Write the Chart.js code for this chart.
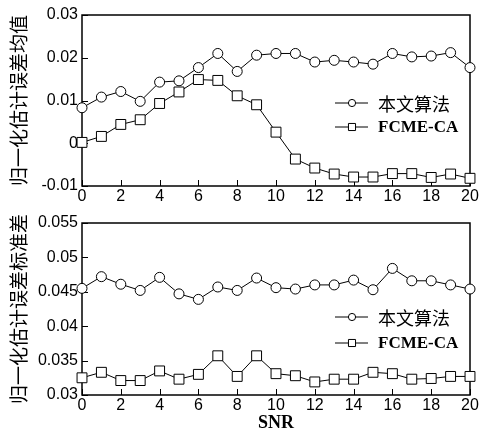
<!DOCTYPE html>
<html>
<head>
<meta charset="utf-8">
<script src="https://cdn.jsdelivr.net/npm/chart.js@4"></script>
<style>
  html, body { margin: 0; padding: 0; background: #fff; overflow: hidden; }
  body { width: 481px; height: 429px; position: relative; }
  canvas { position: absolute; left: 0; }
  #meanChart { top: 0; }
  #stdChart { top: 205px; }
</style>
</head>
<body>
<canvas id="meanChart" width="481" height="210"></canvas>
<canvas id="stdChart" width="481" height="235"></canvas>
<script>
// SNR values on the x axis
const snr = [0, 1, 2, 3, 4, 5, 6, 7, 8, 9, 10, 11, 12, 13, 14, 15, 16, 17, 18, 19, 20];
const seriesNames = ["本文算法", "FCME-CA"];

// top plot: mean of the normalized estimation error
const meanOurs = [0.0083, 0.0108, 0.0121, 0.0098, 0.0143, 0.0146, 0.0177, 0.0210, 0.0168, 0.0206, 0.0210,
                  0.0210, 0.0190, 0.0194, 0.0190, 0.0185, 0.0210, 0.0202, 0.0204, 0.0212, 0.0177];
const meanFcme = [0.0002, 0.0016, 0.0044, 0.0055, 0.0093, 0.0120, 0.0149, 0.0147, 0.0111, 0.0090, 0.0026,
                  -0.0037, -0.0058, -0.0072, -0.0079, -0.0079, -0.0071, -0.0071, -0.0080, -0.0072, -0.0082];

// bottom plot: standard deviation of the normalized estimation error
const stdOurs = [0.0455, 0.0472, 0.0461, 0.0452, 0.0471, 0.0447, 0.0439, 0.0457, 0.0452, 0.0470, 0.0456,
                 0.0454, 0.0460, 0.0460, 0.0467, 0.0453, 0.0484, 0.0466, 0.0466, 0.0460, 0.0454];
const stdFcme = [0.0325, 0.0333, 0.0321, 0.0321, 0.0335, 0.0323, 0.0330, 0.0357, 0.0327, 0.0357, 0.0331,
                 0.0328, 0.0319, 0.0323, 0.0323, 0.0333, 0.0331, 0.0323, 0.0324, 0.0327, 0.0327];

const meanRange = [-0.01, 0.03, 0.01];
const stdRange = [0.03, 0.055, 0.005];
const snrRange = [0, 20, 2];

// box, inward ticks and the little legend inside the plot
const framePlugin = {
    id: "frame",
    beforeDatasetsDraw(chart) {
        const ctx = chart.ctx;
        const a = chart.chartArea;
        const xs = chart.scales.x, ys = chart.scales.y;
        ctx.save();
        ctx.strokeStyle = "#000";
        ctx.lineWidth = 1.5;
        ctx.strokeRect(a.left, a.top, a.right - a.left, a.bottom - a.top);
        ctx.lineWidth = 1;
        ctx.beginPath();
        xs.ticks.forEach(t => {
            const px = Math.round(xs.getPixelForValue(t.value)) + 0.5;
            ctx.moveTo(px, a.bottom);
            ctx.lineTo(px, a.bottom - 6);
        });
        ys.ticks.forEach(t => {
            const py = Math.round(ys.getPixelForValue(t.value)) + 0.5;
            ctx.moveTo(a.left, py);
            ctx.lineTo(a.left + 6, py);
        });
        ctx.stroke();
        ctx.restore();
    },
    afterDraw(chart, args, opts) {
        const ctx = chart.ctx;
        const a = chart.chartArea;
        ctx.save();
        chart.data.datasets.forEach((ds, i) => {
            const y = a.top + opts.rows[i];
            const x0 = a.right - 135;
            ctx.strokeStyle = "#000";
            ctx.lineWidth = 1;
            ctx.beginPath();
            ctx.moveTo(x0, y);
            ctx.lineTo(x0 + 33, y);
            ctx.stroke();
            ctx.fillStyle = "#fff";
            // legend markers are drawn a bit smaller than the plot markers
            Chart.helpers.drawPoint(ctx, {pointStyle: ds.pointStyle, radius: opts.markerSize[i], borderWidth: 1, rotation: 0}, x0 + 17, y);
            ctx.fillStyle = "#000";
            ctx.font = i === 0 ? '18px "Noto Sans CJK SC"' : 'bold 17px "Liberation Serif"';
            ctx.textBaseline = "middle";
            ctx.fillText(ds.label, x0 + 43, y + 1);
        });
        ctx.restore();
    }
};

function makeSet(label, values, style, radius) {
    return {
        label: label,
        data: snr.map((s, i) => ({x: s, y: values[i]})),
        borderColor: "#000",
        borderWidth: 1,
        pointStyle: style,
        pointRadius: radius,
        pointBackgroundColor: "#fff",
        pointBorderColor: "#000",
        pointBorderWidth: 1,
        tension: 0,
        clip: false
    };
}

function makeChart(id, ours, fcme, range, yTitle, top, bottomHeight, legendRows, showXTitle) {
    return new Chart(document.getElementById(id), {
        type: "line",
        data: {
            datasets: [
                makeSet(seriesNames[0], ours, "circle", 5),
                makeSet(seriesNames[1], fcme, "rect", 7)
            ]
        },
        options: {
            responsive: false,
            animation: false,
            layout: {padding: {top: top, right: 11, left: 0, bottom: 0}},
            plugins: {
                legend: {display: false},
                tooltip: {enabled: false},
                frame: {rows: legendRows, markerSize: [3.6, 5]}
            },
            scales: {
                x: {
                    type: "linear",
                    min: snrRange[0], max: snrRange[1],
                    grid: {display: false, drawTicks: false},
                    border: {display: false},
                    ticks: {stepSize: snrRange[2], padding: 1, color: "#000", font: {family: "Liberation Sans", size: 16}},
                    title: {display: showXTitle, text: "SNR", color: "#000", padding: {top: 0, bottom: 6},
                            font: {family: "Liberation Serif", size: 18, weight: "bold"}},
                    afterFit: s => { s.height = bottomHeight; }
                },
                y: {
                    min: range[0], max: range[1],
                    grid: {display: false, drawTicks: false},
                    border: {display: false},
                    ticks: {stepSize: range[2], padding: 4, color: "#000", font: {family: "Liberation Sans", size: 16},
                            callback: v => String(+v.toFixed(3))},
                    title: {display: true, text: yTitle, color: "#000", padding: {top: 7, bottom: 0},
                            font: {family: "Noto Sans CJK SC", size: 19}},
                    afterFit: s => { s.width = 82; }
                }
            }
        },
        plugins: [framePlugin]
    });
}

makeChart("meanChart", meanOurs, meanFcme, meanRange, "归一化估计误差均值", 15, 24, [88, 112], false);
makeChart("stdChart", stdOurs, stdFcme, stdRange, "归一化估计误差标准差", 18, 45, [94, 120], true);
</script>
</body>
</html>
